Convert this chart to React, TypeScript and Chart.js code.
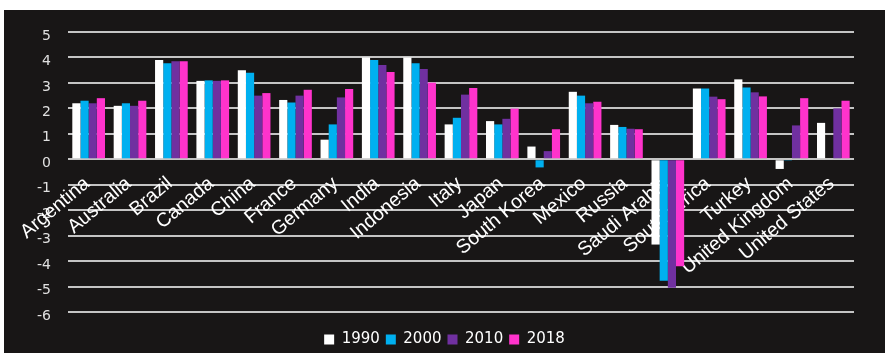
import React, { useEffect, useRef } from "react";
import { Chart, registerables } from "chart.js";

Chart.register(...registerables);

const countries = [
  "Argentina", "Australia", "Brazil", "Canada", "China", "France", "Germany",
  "India", "Indonesia", "Italy", "Japan", "South Korea", "Mexico", "Russia",
  "Saudi Arabia", "South Africa", "Turkey", "United Kingdom", "United States",
];

const v1990 = [2.2, 2.1, 3.9, 3.08, 3.5, 2.33, 0.77, 4.0, 4.0, 1.37, 1.5, 0.5, 2.65, 1.35, -3.35, 2.78, 3.14, -0.38, 1.43];
const v2000 = [2.3, 2.2, 3.77, 3.1, 3.4, 2.23, 1.37, 3.9, 3.77, 1.63, 1.37, -0.32, 2.5, 1.27, -4.77, 2.78, 2.82, -0.05, 0];
const v2010 = [2.2, 2.1, 3.85, 3.08, 2.5, 2.5, 2.43, 3.7, 3.55, 2.54, 1.59, 0.32, 2.2, 1.2, -5.05, 2.46, 2.63, 1.33, 2.0];
const v2018 = [2.4, 2.3, 3.85, 3.1, 2.6, 2.73, 2.76, 3.43, 3.01, 2.8, 1.99, 1.18, 2.26, 1.18, -4.2, 2.36, 2.47, 2.4, 2.3];

const seriesNames = ["1990", "2000", "2010", "2018"];
const seriesColors = ["#ffffff", "#00b0f0", "#7030a0", "#ff33cc"];

// Draws the category labels rotated, hanging just below the zero line (behind the bars)
const zeroLineLabels = {
  id: "zeroLineLabels",
  beforeDatasetsDraw(chart: any) {
    const { ctx, scales } = chart;
    const xs = scales.x;
    const ys = scales.y;
    const y0 = ys.getPixelForValue(0);
    const labels: string[] = chart.data.labels;
    ctx.save();
    ctx.fillStyle = "#ffffff";
    ctx.font = "19.5px 'Liberation Sans', Arial, sans-serif";
    ctx.textAlign = "right";
    ctx.textBaseline = "alphabetic";
    labels.forEach((lab, i) => {
      const x = xs.getPixelForValue(i);
      ctx.save();
      ctx.translate(x + 2, y0 + 26);
      ctx.rotate((-40 * Math.PI) / 180);
      ctx.fillText(lab, 0, 0);
      ctx.restore();
    });
    ctx.restore();
  },
};

export default function App() {
  const ref = useRef<HTMLCanvasElement | null>(null);

  useEffect(() => {
    document.body.style.margin = "0";
    const values = [v1990, v2000, v2010, v2018];
    const chart = new Chart(ref.current!, {
      type: "bar",
      data: {
        labels: countries,
        datasets: seriesNames.map((n, i) => ({
          label: n,
          data: values[i],
          backgroundColor: seriesColors[i],
          borderWidth: 0,
          categoryPercentage: 0.79,
          barPercentage: 1.0,
          yAxisID: "y",
        })),
      },
      options: {
        animation: false,
        responsive: false,
        maintainAspectRatio: false,
        layout: { padding: { left: 16, right: 16, top: 22, bottom: -4 } },
        plugins: {
          tooltip: { enabled: false },
          legend: {
            position: "bottom",
            title: { display: true, text: " ", padding: 0, font: { size: 5 } },
            labels: {
              color: "#ffffff",
              boxWidth: 10,
              boxHeight: 10,
              padding: 6,
              font: { family: "DejaVu Sans", size: 15 },
            },
          },
        },
        scales: {
          x: {
            grid: { display: false },
            border: { display: false },
            ticks: { display: false },
          },
          y: {
            min: -6,
            max: 5,
            grid: { color: "#c4c4c4", lineWidth: 2, drawTicks: false },
            border: { display: false },
            afterFit: (scale: any) => {
              scale.paddingTop = 0;
              scale.paddingBottom = 0;
            },
            ticks: {
              stepSize: 1,
              color: "#e0e0e0",
              padding: 17,
              labelOffset: 4,
              font: { family: "DejaVu Sans", size: 14 },
            },
          },
          yRight: {
            position: "right",
            grid: { display: false },
            border: { display: false },
            ticks: { display: false },
            afterFit: (scale: any) => {
              scale.width = 15;
            },
          },
        },
      },
      plugins: [zeroLineLabels],
    });
    return () => chart.destroy();
  }, []);

  return (
    <div style={{ position: "relative", width: 885, height: 353, background: "#ffffff", overflow: "hidden" }}>
      <div style={{ position: "absolute", left: 4, top: 10, width: 881, height: 343, background: "#181616" }}>
        <canvas ref={ref} width={881} height={343} style={{ display: "block" }} />
      </div>
    </div>
  );
}
